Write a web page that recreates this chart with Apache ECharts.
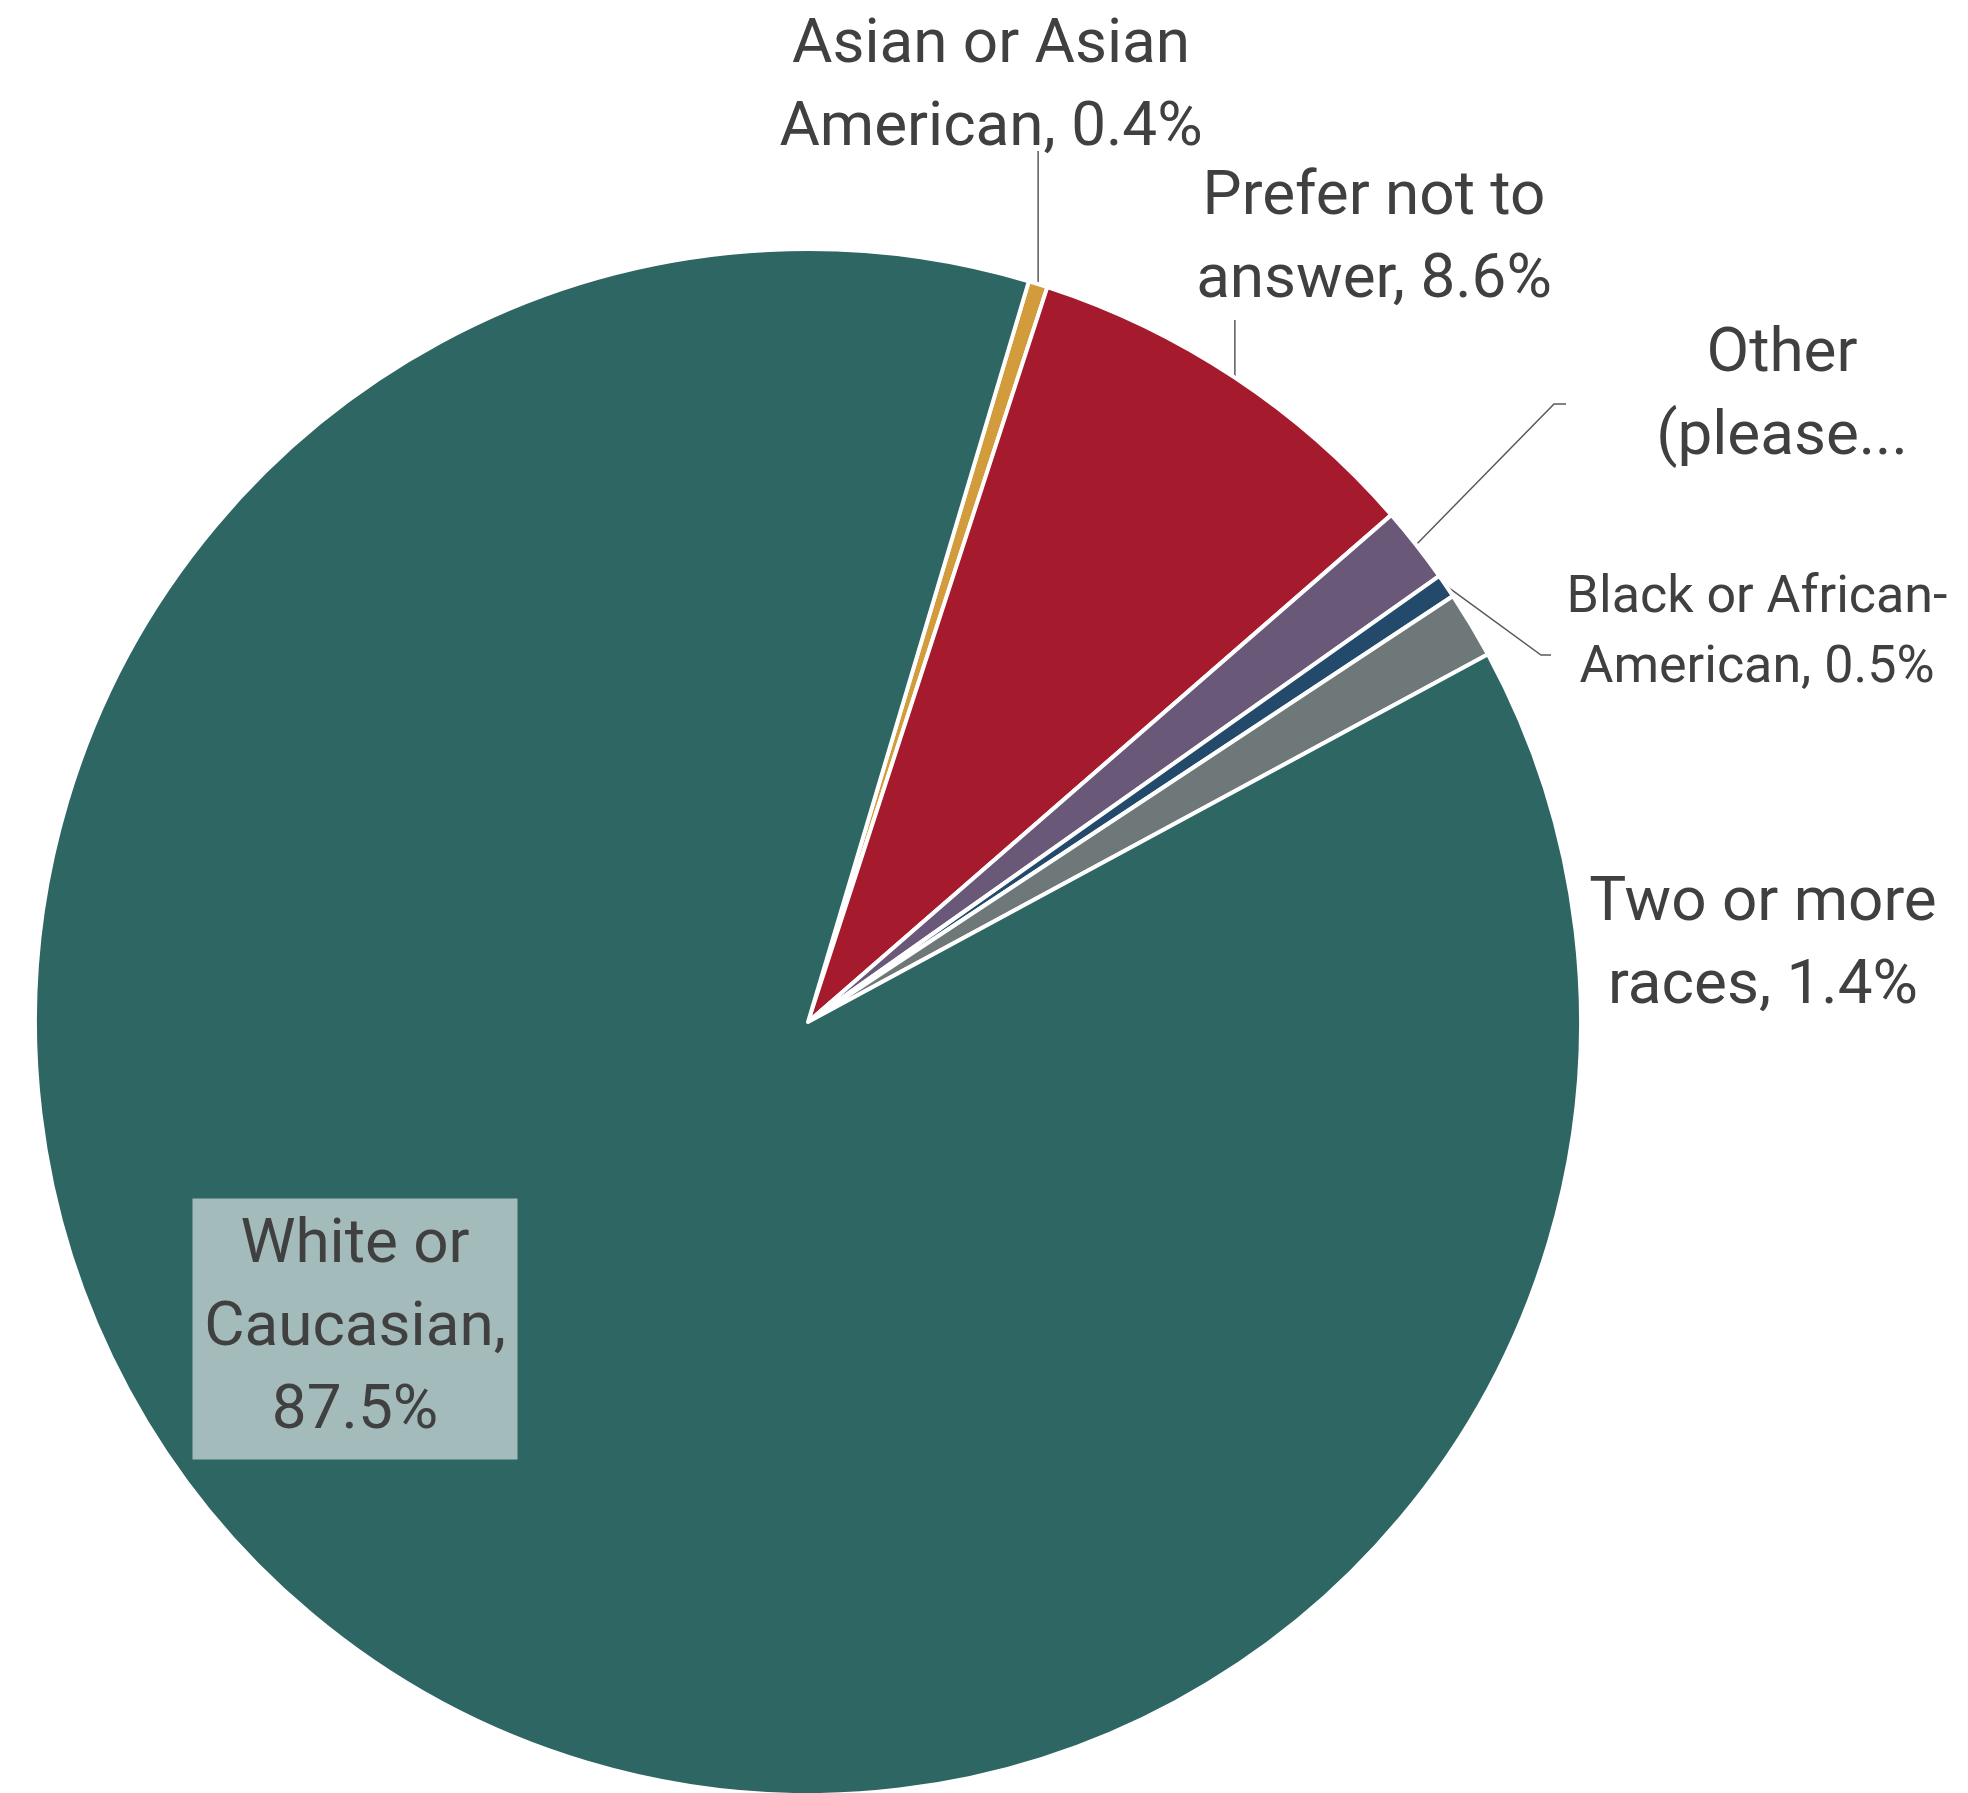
<!DOCTYPE html>
<html>
<head>
<meta charset="utf-8">
<script src="https://cdn.jsdelivr.net/npm/echarts@6/dist/echarts.min.js"></script>
<style>
html,body{margin:0;padding:0;background:#fff;}
#chart{width:1968px;height:1793px;}
</style>
</head>
<body>
<div id="chart"></div>
<script>
// ---- data ----
const categories = ['Asian or Asian American', 'Prefer not to answer', 'Other (please...', 'Black or African-American', 'Two or more races', 'White or Caucasian'];
const labelTexts = ['Asian or Asian\nAmerican, 0.4%', 'Prefer not to\nanswer, 8.6%', 'Other\n(please...', 'Black or African-\nAmerican, 0.5%', 'Two or more\nraces, 1.4%', 'White or\nCaucasian,\n87.5%'];
const values = [0.4, 8.6, 1.6, 0.5, 1.4, 87.5];

// ---- styles ----
const colors = ['#D29C3D', '#A51A2C', '#6A5878', '#234A6B', '#6E7878', '#2E6663'];
const labelPos = [
  {x: 991, y: 88, lineTo: [[null, 151]]},
  {x: 1374, y: 240, lineTo: [[null, 320]]},
  {x: 1782, y: 397, lineTo: [[1554, 404], [1566, 404]]},
  {x: 1757, y: 634, lineTo: [[1541, 655], [1551, 655]]},
  {x: 1763, y: 946, lineTo: null},
  {x: 355, y: 1329, lineTo: null}
];

const chart = echarts.init(document.getElementById('chart'));
const data = categories.map((c, i) => {
  const item = {
    name: c,
    value: values[i],
    itemStyle: {color: colors[i]},
    label: {
      formatter: labelTexts[i],
      fontSize: i === 3 ? 52 : 62,
      lineHeight: i === 3 ? 70 : 83
    }
  };
  if (i === 5) {
    item.label.backgroundColor = '#A3BBBA';
    item.label.padding = [6, 12];
    item.label.width = 301;
    item.label.overflow = 'none';
  }
  if (i === 4 || i === 5) item.labelLine = {show: false};
  return item;
});

chart.setOption({
  animation: false,
  series: [{
    type: 'pie',
    center: [808, 1022],
    radius: [0, 773],
    startAngle: 73.4,
    clockwise: true,
    avoidLabelOverlap: false,
    itemStyle: {borderColor: '#ffffff', borderWidth: 4},
    label: {
      show: true,
      position: 'outside',
      color: '#404040',
      fontFamily: 'Roboto',
      align: 'center'
    },
    labelLine: {
      show: true,
      lineStyle: {color: '#595959', width: 1.5}
    },
    labelLayout: function (params) {
      const cfg = labelPos[params.dataIndex];
      const out = {x: cfg.x, y: cfg.y, align: 'center', verticalAlign: 'middle'};
      if (cfg.lineTo && params.labelLinePoints) {
        const p0 = params.labelLinePoints[0];
        const pts = [[p0[0], p0[1]]];
        cfg.lineTo.forEach(p => pts.push([p[0] === null ? p0[0] : p[0], p[1]]));
        if (pts.length === 2) pts.push(pts[1].slice());
        out.labelLinePoints = pts;
      }
      return out;
    },
    data: data
  }]
});
</script>
</body>
</html>
